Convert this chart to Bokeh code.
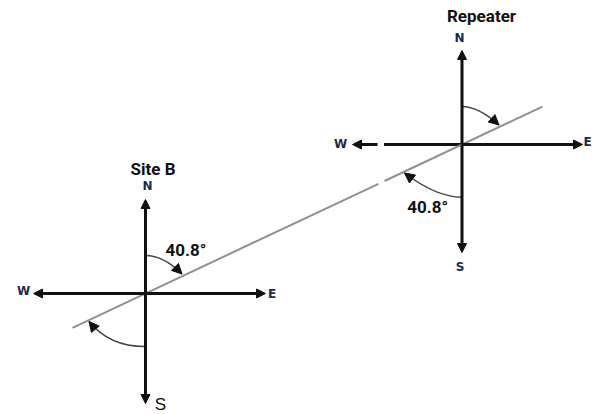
from bokeh.plotting import figure
from bokeh.models import Range1d, Arrow, NormalHead, ColumnDataSource
from bokeh.core.properties import value
from bokeh.embed import file_html
from bokeh.resources import INLINE
import numpy as np

# ---- content ----
site_names = ["Site B", "Repeater"]
angle_labels = ["40.8°", "40.8°"]
directions = ["N", "E", "S", "W"]

# ---- layout (reference pixel space, y downward) ----
cx = [145.0, 461.5]
cy = [293.0, 144.0]
arm_n = [94, 94]
arm_s = [110, 108]
arm_w = [112, 109.5]
arm_e = [120, 120.5]

p = figure(width=600, height=414, output_backend="svg", toolbar_location=None,
           x_range=Range1d(0, 600), y_range=Range1d(414, 0), min_border=0)
p.axis.visible = False
p.grid.visible = False
p.outline_line_color = None
p.background_fill_color = "white"

AX = "#111111"

def arrow(x0, y0, x1, y1, size=9, lw=3, color=AX):
    p.add_layout(Arrow(end=NormalHead(size=size, fill_color=color, line_color=color, line_width=1),
                       x_start=x0, y_start=y0, x_end=x1, y_end=y1,
                       line_color=color, line_width=lw))

# compass arms
for i in range(2):
    x, y = cx[i], cy[i]
    arrow(x, y, x, y - arm_n[i])
    arrow(x, y, x, y + arm_s[i])
    arrow(x, y, x + arm_e[i], y)
    if i == 0:
        arrow(x, y, x - arm_w[i], y)
    else:
        gap0, gap1 = 377.0, 383.5
        p.segment(x0=[x], y0=[y], x1=[gap1], y1=[y], line_color=AX, line_width=3)
        arrow(gap0, y, x - arm_w[i], y)

# diagonal path line between the two sites (with small gap)
slope = (cy[1] - cy[0]) / (cx[1] - cx[0])
def ly(x):
    return cy[0] + slope * (x - cx[0])
xa, xb = 72.0, 542.0
g0, g1 = 378.0, 384.0
p.segment(x0=[xa, g1], y0=[ly(xa), ly(g1)], x1=[g0, xb], y1=[ly(g0), ly(xb)],
          line_color="#909090", line_width=2)

# angle arcs (quadratic curves) with arrow heads
arcs = [
    # start, control, end
    ((145, 255), (163, 255), (181.5, 273.5)),
    ((144, 346), (109, 346), (88.5, 321)),
    ((461.5, 106), (478, 106), (498.5, 124.5)),
    ((461.5, 196.7), (436, 196.7), (404, 172.5)),
]
for (s, c, e) in arcs:
    p.quadratic(x0=[s[0]], y0=[s[1]], cx=[c[0]], cy=[c[1]], x1=[e[0]], y1=[e[1]],
                line_color="#444444", line_width=1.5)
    dx, dy = e[0] - c[0], e[1] - c[1]
    n = np.hypot(dx, dy)
    arrow(e[0] - dx / n * 4, e[1] - dy / n * 4, e[0], e[1], size=10, lw=1.5, color="#111111")

cond = value("Roboto")

# site titles
p.text(x=[152.5, 481], y=[168.5, 15.2], text=site_names, text_font=cond,
       text_font_style="bold", text_font_size="17px", text_align="center",
       text_baseline="middle", text_color="#111111")

# angle labels
p.text(x=[165, 406.7], y=[249.3, 206.8], text=angle_labels, text_font=cond,
       text_font_style="bold", text_font_size="17px", text_align="left",
       text_baseline="middle", text_color="#111111")

# compass letters
NAVY = "#1b2a4a"
dir_src = ColumnDataSource(dict(
    x=[147, 271.5, 23, 459, 587, 340, 459.5],
    y=[185.5, 293.5, 290.5, 37, 141, 143.5, 266],
    t=[directions[0], directions[1], directions[3],
       directions[0], directions[1], directions[3], directions[2]],
))
p.text(x="x", y="y", text="t", source=dir_src, text_font=value("DejaVu Sans"),
       text_font_style="bold", text_font_size="12px", text_align="center",
       text_baseline="middle", text_color=NAVY)
# Site B south label (larger, regular)
p.text(x=[160], y=[404], text=[directions[2]], text_font=value("Liberation Sans"),
       text_font_size="17px", text_align="center", text_baseline="middle",
       text_color="#111111")

open("out.html", "w").write(file_html(p, INLINE))
